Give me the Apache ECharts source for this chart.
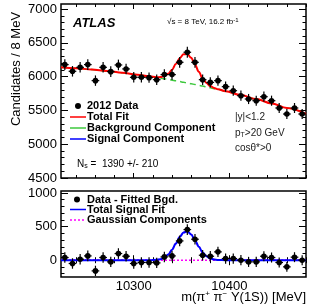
<!DOCTYPE html>
<html><head><meta charset="utf-8">
<script src="https://cdn.jsdelivr.net/npm/echarts@6/dist/echarts.min.js"></script>
<style>html,body{margin:0;padding:0;background:#fff}#c{width:313px;height:305px}</style>
</head><body><div id="c"></div>
<script>
// ---- data ----
const massBins = [10228,10236,10244,10252,10260,10268,10276,10284,10292,10300,10308,10316,10324,10332,10340,10348,10356,10364,10372,10380,10388,10396,10404,10412,10420,10428,10436,10444,10452,10460,10468,10476];
const candidates = [6178,6079,6138,6178,5941,6138,6074,6173,6114,5990,5990,5985,5955,6030,6030,6212,6361,6212,5955,5915,5941,5852,5792,5718,5669,5644,5703,5644,5536,5447,5536,5447];
const candErrors = [79,78,78,79,77,78,78,79,78,77,77,77,77,78,78,79,80,79,77,77,77,76,76,76,75,75,76,75,74,74,74,74];
const residuals = [40,-49,15,64,-159,40,-25,99,59,-49,-34,-34,-40,49,64,287,456,312,74,59,124,25,25,0,-25,-25,59,40,-34,-99,45,0];

const fitMass    = [10224,10240,10256,10272,10288,10304,10316,10324,10328,10332,10336,10340,10344,10348,10352,10356,10360,10364,10368,10372,10376,10380,10384,10388,10396,10412,10428,10444,10460,10480];
const totalFit   = [6138,6124,6106,6084,6058,6029,6004,5992,5993,6007,6042,6103,6186,6272,6330,6334,6278,6181,6071,5976,5906,5860,5832,5813,5783,5727,5668,5604,5536,5447];
const background = [6138,6124,6106,6084,6058,6029,6004,5986,5977,5968,5958,5948,5938,5927,5917,5906,5895,5883,5871,5860,5848,5835,5822,5810,5783,5727,5668,5604,5536,5447];
const signalFit  = [0,0,0,0,0,0,0,6,16,39,84,155,248,344,413,428,384,298,200,116,58,25,10,3,0,0,0,0,0,0];
const gaussWide  = [0,0,0,0,0,0,0,0,0,0,0,0,0,0,0,0,0,0,0,0,0,0,0,0,0,0,0,0,0,0];

const xMajorTicks = [10300,10400];
const yTopTicks = [4500,5000,5500,6000,6500,7000];
const yBotTicks = [0,500,1000];

// ---- layout ----
const FONT = '"Liberation Sans", Arial, Helvetica, sans-serif';
const X_MIN = 10224, X_MAX = 10480;
const grids = [
  {left:61, top:4, width:245, height:174, show:true, borderColor:'#000', borderWidth:1.5, backgroundColor:'transparent'},
  {left:61, top:191, width:245, height:86, show:true, borderColor:'#000', borderWidth:1.5, backgroundColor:'transparent'}
];
function minorList(a,b,step,majors){const o=[];for(let v=a;v<=b+1e-9;v+=step){if(!majors.includes(v))o.push(v);}return o;}
const xMinor = minorList(10240,10480,20,xMajorTicks);
const yTopMinor = minorList(4600,7000,100,yTopTicks);
const yBotMinor = minorList(-200,1000,100,yBotTicks);
const plain = v => String(Math.round(v));

function xAx(g,pos,ticks,len,labels){
  return {type:'value',gridIndex:g,position:pos,min:X_MIN,max:X_MAX,
    axisLine:{show:false},splitLine:{show:false},
    axisTick:{show:true,inside:true,length:len,customValues:ticks,lineStyle:{color:'#000',width:1}},
    axisLabel:labels?{show:true,customValues:labels,formatter:plain,fontSize:13,fontFamily:FONT,color:'#000',margin:3}:{show:false}};
}
function yAx(g,pos,mn,mx,ticks,len,labels){
  return {type:'value',gridIndex:g,position:pos,min:mn,max:mx,
    axisLine:{show:false},splitLine:{show:false},
    axisTick:{show:true,inside:true,length:len,customValues:ticks,lineStyle:{color:'#000',width:1}},
    axisLabel:labels?{show:true,customValues:labels,formatter:plain,fontSize:13,fontFamily:FONT,color:'#000',margin:4}:{show:false}};
}
const xAxes = [
  xAx(0,'bottom',xMajorTicks,5,null), xAx(0,'bottom',xMinor,3,null),
  xAx(0,'top',xMajorTicks,5,null), xAx(0,'top',xMinor,3,null),
  xAx(1,'bottom',xMajorTicks,5,xMajorTicks), xAx(1,'bottom',xMinor,3,null),
  xAx(1,'top',xMajorTicks,5,null), xAx(1,'top',xMinor,3,null)
];
const TOP_MIN=4500, TOP_MAX=7075, BOT_MIN=-250, BOT_MAX=1030;
const yAxes = [
  yAx(0,'left',TOP_MIN,TOP_MAX,yTopTicks,7,yTopTicks), yAx(0,'left',TOP_MIN,TOP_MAX,yTopMinor,3.5,null),
  yAx(0,'right',TOP_MIN,TOP_MAX,yTopTicks,7,null), yAx(0,'right',TOP_MIN,TOP_MAX,yTopMinor,3.5,null),
  yAx(1,'left',BOT_MIN,BOT_MAX,yBotTicks,7,yBotTicks), yAx(1,'left',BOT_MIN,BOT_MAX,yBotMinor,3.5,null),
  yAx(1,'right',BOT_MIN,BOT_MAX,yBotTicks,7,null), yAx(1,'right',BOT_MIN,BOT_MAX,yBotMinor,3.5,null)
];

function errRender(params, api){
  const x=api.value(0), y=api.value(1), e=api.value(2);
  const c=api.coord([x,y]), t=api.coord([x,y+e]), b=api.coord([x,y-e]), l=api.coord([x-4,y]), r=api.coord([x+4,y]);
  const st={stroke:'#000', lineWidth:1.2};
  return {type:'group', children:[
    {type:'line', shape:{x1:c[0],y1:t[1],x2:c[0],y2:b[1]}, style:st},
    {type:'line', shape:{x1:l[0],y1:c[1],x2:r[0],y2:c[1]}, style:st},
    {type:'circle', shape:{cx:c[0],cy:c[1],r:2.8}, style:{fill:'#000'}}
  ]};
}
const zip = (a,b)=>a.map((v,i)=>[v,b[i]]);
const lineS = (xi,yi,data,color,width,type,z)=>({type:'line',xAxisIndex:xi,yAxisIndex:yi,data:data,symbol:'none',
  smooth:0.35,smoothMonotone:'x',lineStyle:{color:color,width:width,type:type},z:z,silent:true,animation:false,clip:true});

const series = [
  lineS(0,0,zip(fitMass,background),'#3ec83e',1.5,[6,4],2),
  lineS(0,0,zip(fitMass,totalFit),'#ff0000',2,'solid',3),
  {type:'custom',xAxisIndex:0,yAxisIndex:0,renderItem:errRender,data:massBins.map((m,i)=>[m,candidates[i],candErrors[i]]),encode:{x:0,y:1},z:5,animation:false,clip:true},
  lineS(4,4,zip(fitMass,gaussWide),'#ff00ff',1.5,[2,2],2),
  lineS(4,4,zip(fitMass,signalFit),'#ff00ff',1.5,[2,2],2),
  lineS(4,4,zip(fitMass,signalFit),'#0000ff',2,'solid',3),
  {type:'custom',xAxisIndex:4,yAxisIndex:4,renderItem:errRender,data:massBins.map((m,i)=>[m,residuals[i],candErrors[i]]),encode:{x:0,y:1},z:5,animation:false,clip:true}
];

const T = (x,y,text,opt)=>Object.assign({type:'text',x:x,y:y,style:Object.assign({text:text,fill:'#000',font:'11px '+FONT,verticalAlign:'middle',align:'left'},opt||{})});
const bold11 = 'bold 11px '+FONT;
const graphic = [
  T(73,23,'ATLAS',{font:'italic bold 13px '+FONT}),
  {type:'text',x:167,y:22,style:{text:'{a|√s = 8 TeV, 16.2 fb}{u|-1}',verticalAlign:'middle',
     rich:{a:{fontSize:8,fontFamily:FONT,fill:'#000',lineHeight:10},u:{fontSize:6,fontFamily:FONT,fill:'#000',verticalAlign:'top',lineHeight:10}}}},
  // top legend
  {type:'circle',shape:{cx:78,cy:106,r:3},style:{fill:'#000'}},
  T(87,106,'2012 Data',{font:bold11}),
  {type:'line',shape:{x1:70,y1:117,x2:86,y2:117},style:{stroke:'#ff0000',lineWidth:1.5}},
  T(87,117,'Total Fit',{font:bold11}),
  {type:'line',shape:{x1:70,y1:128,x2:86,y2:128},style:{stroke:'#3ec83e',lineWidth:1.5}},
  T(87,128,'Background Component',{font:bold11}),
  {type:'line',shape:{x1:70,y1:139,x2:86,y2:139},style:{stroke:'#0000ff',lineWidth:1.5}},
  T(87,139,'Signal Component',{font:bold11}),
  {type:'text',x:77,y:164,style:{text:'{a|N}{s|s}{a| =  1390 +/- 210}',verticalAlign:'middle',
     rich:{a:{fontSize:10,fontFamily:FONT,fill:'#000',lineHeight:12},s:{fontSize:7,fontFamily:FONT,fill:'#000',verticalAlign:'bottom',lineHeight:12}}}},
  // cuts
  T(235,117,'|y|<1.2',{font:'10px '+FONT,fill:'#222'}),
  {type:'text',x:235,y:133,style:{text:'{a|p}{s|T}{a|>20 GeV}',verticalAlign:'middle',
     rich:{a:{fontSize:10,fontFamily:FONT,fill:'#222',lineHeight:12},s:{fontSize:7,fontFamily:FONT,fill:'#222',verticalAlign:'bottom',lineHeight:12}}}},
  T(235,148,'cosθ*>0',{font:'10px '+FONT,fill:'#222'}),
  // bottom legend
  {type:'circle',shape:{cx:77,cy:199.5,r:3},style:{fill:'#000'}},
  T(87,199.5,'Data - Fitted Bgd.',{font:bold11}),
  {type:'line',shape:{x1:70,y1:209.5,x2:86,y2:209.5},style:{stroke:'#0000ff',lineWidth:1.5}},
  T(87,209.5,'Total Signal Fit',{font:bold11}),
  {type:'line',shape:{x1:70,y1:220,x2:86,y2:220},style:{stroke:'#ff00ff',lineWidth:1.5,lineDash:[2,2]}},
  T(87,220,'Gaussian Components',{font:bold11}),
  // axis titles
  {type:'text',x:16,y:69,rotation:Math.PI/2,style:{text:'Candidates / 8 MeV',font:'13px '+FONT,fill:'#000',align:'center',verticalAlign:'middle'}},
  {type:'text',x:306,y:297,style:{text:'{a|m(π}{u|+}{a| π}{u|−}{a| Υ(1S)) [MeV]}',align:'right',verticalAlign:'middle',
     rich:{a:{fontSize:13,fontFamily:FONT,fill:'#000',lineHeight:15},u:{fontSize:8,fontFamily:FONT,fill:'#000',verticalAlign:'top',lineHeight:15}}}}
];

const chart = echarts.init(document.getElementById('c'), null, {renderer:'canvas'});
chart.setOption({animation:false, grid:grids, xAxis:xAxes, yAxis:yAxes, series:series, graphic:graphic});
</script></body></html>
